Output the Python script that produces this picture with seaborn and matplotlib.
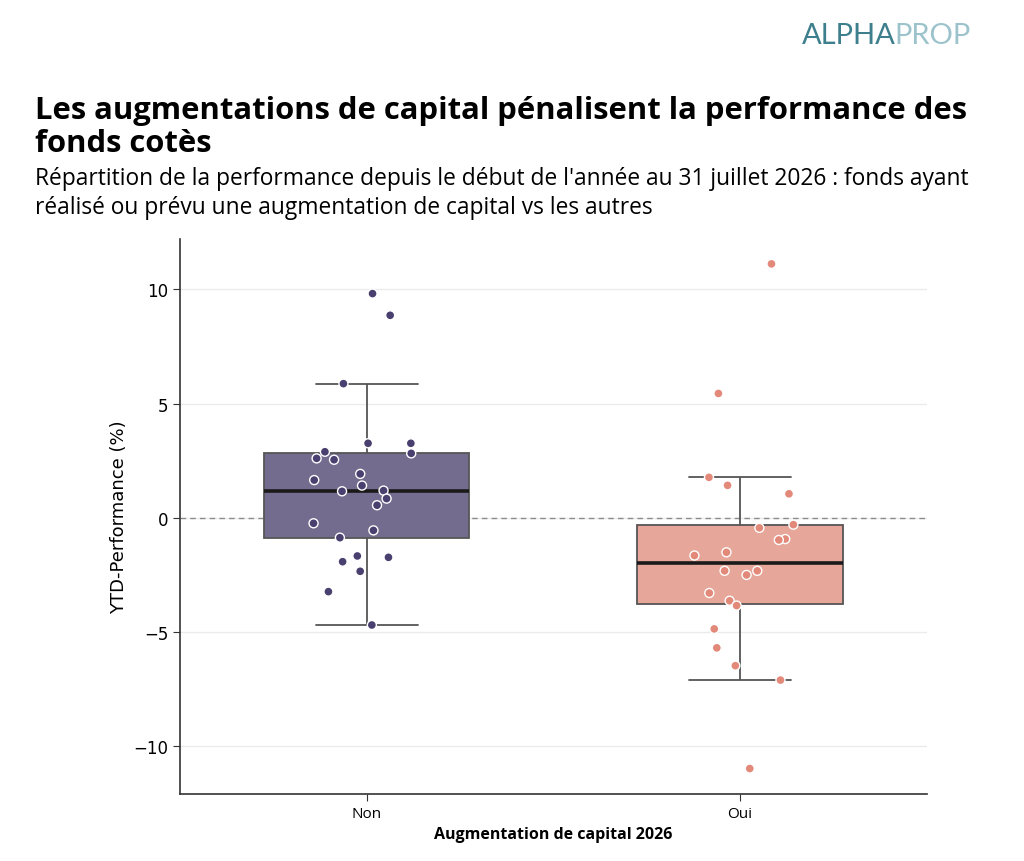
import numpy as np
import pandas as pd
import matplotlib
matplotlib.use("Agg")
import matplotlib.pyplot as plt
import seaborn as sns

# YTD performance (%) per fund
perf_non = [9.81, 8.86, 5.87, 3.26, 3.26, 2.82, 2.89, 2.54, 2.60, 1.92, 1.65, 1.41,
            1.19, 1.16, 0.84, 0.55, -0.24, -0.55, -0.87, -1.67, -1.92, -1.73,
            -2.34, -3.23, -4.69]
perf_oui = [11.11, 5.44, 1.77, 1.42, 1.05, -0.30, -0.44, -0.93, -0.97, -1.51, -1.65,
            -2.32, -2.50, -2.32, -3.29, -3.63, -3.84, -4.86, -5.69, -6.47, -7.10,
            -10.97]
categories = ["Non", "Oui"]

box_colors = {"Non": "#746c8e", "Oui": "#e6a699"}
point_colors = {"Non": "#4a4070", "Oui": "#e3897a"}

df = pd.DataFrame({
    "augmentation": ["Non"] * len(perf_non) + ["Oui"] * len(perf_oui),
    "perf": perf_non + perf_oui,
})

sns.set_style("white")
plt.rcParams["font.family"] = ["DejaVu Sans"]
plt.rcParams["text.color"] = "black"
plt.rcParams["axes.labelcolor"] = "black"
plt.rcParams["xtick.color"] = "black"
plt.rcParams["ytick.color"] = "black"

fig = plt.figure(figsize=(10.24, 8.62), dpi=100)
ax = fig.add_axes([0.176, 0.078, 0.729, 0.644])

ax.axhline(0, color="#8c8c8c", linestyle=(0, (4, 3)), linewidth=1, zorder=1)

sns.boxplot(data=df, x="augmentation", y="perf", hue="augmentation", order=categories,
            palette=box_colors, saturation=1, width=0.55, showfliers=False,
            linecolor="#555555", linewidth=1.3,
            medianprops=dict(color="#1a1a1a", linewidth=2.6),
            legend=False, ax=ax, zorder=2)

np.random.seed(3)
sns.stripplot(data=df, x="augmentation", y="perf", hue="augmentation", order=categories,
              palette=point_colors, jitter=0.15, size=6.5, edgecolor="white",
              linewidth=1, legend=False, ax=ax, zorder=3)

ax.yaxis.grid(True, color="#ebebeb", linewidth=1)
ax.set_axisbelow(True)
sns.despine(ax=ax)
for s in ["left", "bottom"]:
    ax.spines[s].set_color("#333333")
    ax.spines[s].set_linewidth(1.2)

ax.set_yticks([-10, -5, 0, 5, 10])
ax.tick_params(axis="y", labelsize=12, length=5, left=True, color="#333333")
ax.tick_params(axis="x", length=5, bottom=True, color="#333333")
for lab in ax.get_xticklabels():
    lab.set_fontfamily("Open Sans")
    lab.set_fontsize(11)
ax.set_ylabel("YTD-Performance (%)", fontsize=13)
ax.set_xlabel("Augmentation de capital 2026", fontsize=11.5, fontweight="bold",
              fontfamily="Open Sans", labelpad=4)

fig.text(0.034, 0.889, "Les augmentations de capital pénalisent la performance des\nfonds cotès",
         fontsize=22.3, fontweight="bold", fontfamily="Open Sans", va="top",
         linespacing=1.15)
fig.text(0.034, 0.806, "Répartition de la performance depuis le début de l'année au 31 juillet 2026 : fonds ayant\nréalisé ou prévu une augmentation de capital vs les autres",
         fontsize=16.4, fontfamily="Open Sans", va="top", linespacing=1.28)

fig.text(0.783, 0.958, "ALPHA", fontsize=21, color="#3d7f8c", fontfamily="Lato",
         va="center", ha="left")
fig.text(0.873, 0.958, "PROP", fontsize=21, color="#9cc3cc", fontfamily="Lato",
         va="center", ha="left")

fig.savefig("out.png", dpi=100)
